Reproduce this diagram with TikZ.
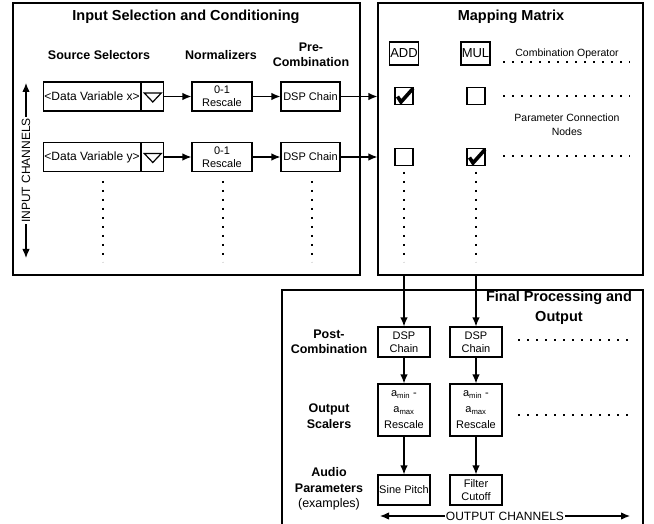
\documentclass[tikz,border=0pt]{standalone}
\usepackage{fontspec}
\setmainfont{Liberation Sans}
\usetikzlibrary{positioning,arrows.meta}

\begin{document}
\begin{tikzpicture}[
    x=1pt, y=-1pt,
    frame/.style={rectangle, draw, line width=1.2pt, inner sep=0pt},
    box/.style={rectangle, draw, line width=1.2pt, align=center, inner sep=1pt,
                font=\fontsize{11}{13}\selectfont},
    opbox/.style={rectangle, draw, line width=1.2pt, inner sep=0.8pt,
                  minimum height=23pt, font=\fontsize{13}{15}\selectfont},
    chk/.style={rectangle, draw, line width=1.2pt, minimum width=18pt,
                minimum height=17pt, inner sep=0pt},
    tick/.style={line width=3.6pt},
    arrow/.style={-{Latex[length=9pt,width=7.5pt]}, line width=1.2pt},
    dblarrow/.style={{Latex[length=9pt,width=7.5pt]}-{Latex[length=9pt,width=7.5pt]}, line width=1.2pt},
    dots/.style={line width=1.8pt, dash pattern=on 1.8pt off 7.2pt},
    title/.style={font=\bfseries\fontsize{14.5}{20}\selectfont, align=center},
    head/.style={font=\bfseries\fontsize{12.5}{15.5}\selectfont, align=center},
    lbl/.style={font=\fontsize{10.5}{14}\selectfont, align=center},
    chan/.style={fill=white, inner sep=1pt, font=\fontsize{12}{14}\selectfont}
]
    \useasboundingbox (0,0) rectangle (654,524);

    % input selection and conditioning
    \node[frame, minimum width=347pt, minimum height=272pt] (inframe) at (186.5,139) {};
    \node[title] (intitle) at (186,17) {Input Selection and Conditioning};
    \node[head] (hsrc) at (99,55) {Source Selectors};
    \node[head] (hnorm) at (221,55) {Normalizers};
    \node[head] (hpre) at (311,55) {Pre-\\Combination};

    \node[box, font=\fontsize{12}{13}\selectfont, minimum width=96pt, minimum height=29pt] (src1) at (92,96.5) {<Data Variable x>};
    \node[box, minimum width=22pt, minimum height=29pt, right=0pt of src1] (dd1) {};
    \node[box, minimum width=60pt, minimum height=29pt] (norm1) at (222,96.5) {0-1\\Rescale};
    \node[box, minimum width=59pt, minimum height=29pt] (pre1) at (310.5,96.5) {DSP Chain};

    \node[box, font=\fontsize{12}{13}\selectfont, minimum width=96pt, minimum height=29pt] (src2) at (92,157) {<Data Variable y>};
    \node[box, minimum width=22pt, minimum height=29pt, right=0pt of src2] (dd2) {};
    \node[box, minimum width=60pt, minimum height=29pt] (norm2) at (222,157) {0-1\\Rescale};
    \node[box, minimum width=59pt, minimum height=29pt] (pre2) at (310.5,157) {DSP Chain};

    \draw[line width=1.2pt, shift={(dd1.center)}] (-8.5,-3.5) -- (8.5,-3.5) -- (0,5.5) -- cycle;
    \draw[line width=1.2pt, shift={(dd2.center)}] (-8.5,-3.5) -- (8.5,-3.5) -- (0,5.5) -- cycle;

    \draw[dots] (103,181) -- (103,262);
    \draw[dots] (223,181) -- (223,262);
    \draw[dots] (312,181) -- (312,262);

    \coordinate (inup) at (26,83);
    \coordinate (indown) at (26,258);
    \draw[dblarrow] (indown) -- node[chan, rotate=90] (inlbl) {INPUT CHANNELS} (inup);

    % mapping matrix
    \node[frame, minimum width=265pt, minimum height=272pt] (mapframe) at (510.5,139) {};
    \node[title] (maptitle) at (511,17) {Mapping Matrix};
    \node[opbox] (add) at (404,53.5) {ADD};
    \node[opbox] (mul) at (475.5,53.5) {MUL};
    \node[lbl] (oplbl) at (567,54) {Combination Operator};
    \draw[dots] (503,62) -- (630,62);

    \node[chk] (chk11) at (404,96) {};
    \node[chk] (chk12) at (476,96) {};
    \node[chk] (chk21) at (404,157) {};
    \node[chk] (chk22) at (476,157) {};
    \draw[tick, shift={(chk11.center)}] (-6.5,0.5) -- (-3,6) -- (9,-7.5);
    \draw[tick, shift={(chk22.center)}] (-6.5,0.5) -- (-3,6) -- (9,-7.5);

    \node[lbl] (pclbl) at (567,125) {Parameter Connection\\Nodes};
    \draw[dots] (503,96) -- (630,96);
    \draw[dots] (503,156) -- (630,156);
    \draw[dots] (404,172) -- (404,262);
    \draw[dots] (476,172) -- (476,262);

    \draw[arrow] (pre1) -- (pre1 -| mapframe.west);
    \draw[arrow] (pre2) -- (pre2 -| mapframe.west);
    \draw[arrow] (dd1) -- (norm1);
    \draw[arrow] (norm1) -- (pre1);
    \draw[arrow] (dd2) -- (norm2);
    \draw[arrow] (norm2) -- (pre2);

    % final processing and output
    \coordinate (fbl) at (282,525);
    \coordinate (ftl) at (282,290);
    \coordinate (ftr) at (643,290);
    \coordinate (fbr) at (643,525);
    \draw[line width=1.2pt] (fbl) -- (ftl) -- (ftr) -- (fbr);
    \node[title] (outtitle) at (559,308) {Final Processing and\\Output};

    \node[head] (hpost) at (329,342) {Post-\\Combination};
    \node[head] (hscale) at (329,416) {Output\\Scalers};
    \node[head] (haudio) at (329,489) {Audio\\Parameters\\{\mdseries (examples)}};

    \node[box, minimum width=52pt, minimum height=30pt] (post1) at (404,342) {DSP\\Chain};
    \node[box, minimum width=52pt, minimum height=30pt] (post2) at (476,342) {DSP\\Chain};
    \node[box, font=\fontsize{11}{16}\selectfont, minimum width=52pt, minimum height=52pt] (sc1) at (404,410) {a\textsubscript{min} -\\a\textsubscript{max}\\Rescale};
    \node[box, font=\fontsize{11}{16}\selectfont, minimum width=52pt, minimum height=52pt] (sc2) at (476,410) {a\textsubscript{min} -\\a\textsubscript{max}\\Rescale};
    \node[box, minimum width=52pt, minimum height=30pt] (aud1) at (404,490) {Sine Pitch};
    \node[box, minimum width=52pt, minimum height=30pt] (aud2) at (476,490) {Filter\\Cutoff};

    \draw[arrow] (mapframe.south -| post1) -- (post1);
    \draw[arrow] (mapframe.south -| post2) -- (post2);
    \draw[arrow] (post1) -- (sc1);
    \draw[arrow] (post2) -- (sc2);
    \draw[arrow] (sc1) -- (aud1);
    \draw[arrow] (sc2) -- (aud2);

    \draw[dots] (518,340) -- (630,340);
    \draw[dots] (518,415) -- (630,415);

    \coordinate (outl) at (380,516);
    \coordinate (outr) at (630,516);
    \draw[dblarrow] (outl) -- node[chan] (outlbl) {OUTPUT CHANNELS} (outr);
\end{tikzpicture}
\end{document}
